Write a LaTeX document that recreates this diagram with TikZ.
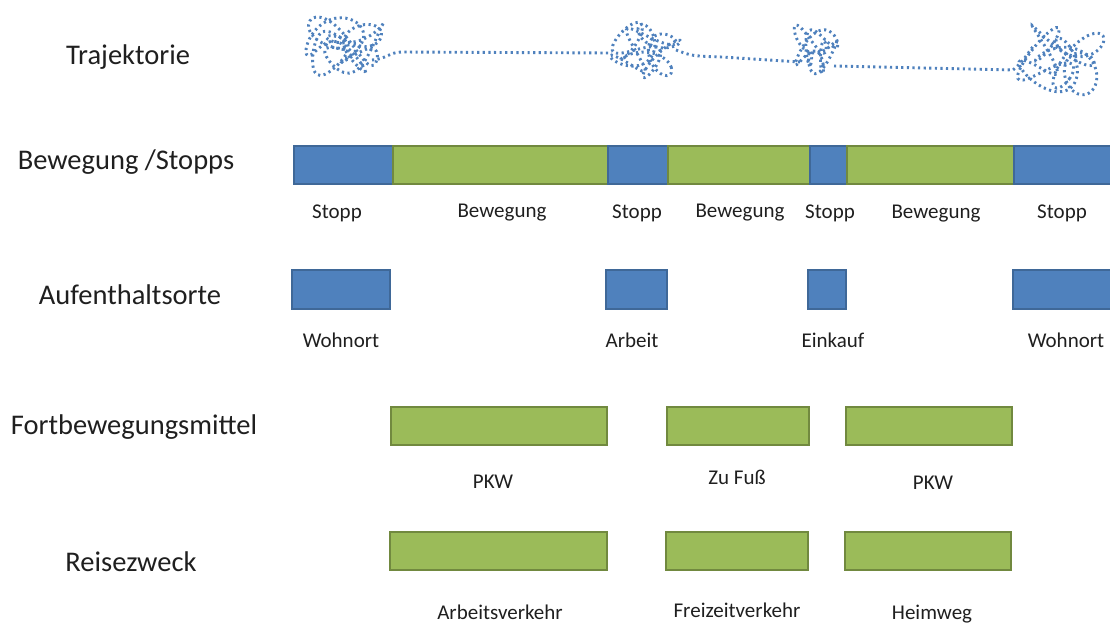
\documentclass[tikz,border=0pt]{standalone}
\usepackage{fontspec}
\setmainfont{Carlito}
\definecolor{stopblue}{HTML}{4F81BD}
\definecolor{stopedge}{HTML}{3F6898}
\definecolor{movegreen}{HTML}{9BBB59}
\definecolor{moveedge}{HTML}{71893F}
\begin{document}
\begin{tikzpicture}[x=1pt,y=-1pt,
  rowlabel/.style={font=\fontsize{28.5}{32}\selectfont, text=black!88},
  seglabel/.style={font=\fontsize{21}{24}\selectfont, text=black!88},
  stopbox/.style={draw=stopedge, fill=stopblue, line width=1.3pt},
  movebox/.style={draw=moveedge, fill=movegreen, line width=1.3pt},
  track/.style={draw=stopblue, line width=2.9pt, dash pattern=on 2.2pt off 3.4pt}]
\useasboundingbox (0,0) rectangle (1110,625);

% row titles
\node[rowlabel] (tTraj) at (128,57) {Trajektorie};
\node[rowlabel] (tMove) at (126,162) {Bewegung /Stopps};
\node[rowlabel] (tStay) at (130,295) {Aufenthaltsorte};
\node[rowlabel] (tMode) at (134,427) {Fortbewegungsmittel};
\node[rowlabel] (tPurp) at (131,562) {Reisezweck};

% trajectory: tangles at the stops, dotted tracks between them
\draw[track] plot[smooth, domain=0:360, samples=160, variable=\t]
  ({345+46*(0.5*sin(3*\t)+0.4*cos(7*\t+20)+0.1*sin(11*\t))}, {46+32*(0.5*cos(4*\t)+0.4*sin(9*\t)+0.1*cos(13*\t))});
\draw[track] plot[smooth, domain=0:360, samples=160, variable=\t]
  ({645+36*(0.55*sin(2*\t+30)+0.45*cos(7*\t))}, {50+28*(0.6*cos(3*\t)+0.4*sin(8*\t))});
\draw[track] plot[smooth, domain=0:360, samples=140, variable=\t]
  ({816+23*(0.6*sin(3*\t)+0.4*cos(5*\t+40))}, {50+25*(0.55*cos(2*\t)+0.45*sin(7*\t))});
\draw[track] plot[smooth, domain=0:360, samples=160, variable=\t]
  ({1060+44*(0.55*sin(2*\t)+0.45*cos(7*\t+60))}, {60+35*(0.55*cos(3*\t+20)+0.45*sin(8*\t))});
\draw[track] (372,60) .. controls (386,59) and (390,52) .. (402,52) -- (612,53);
\draw[track] (676,50) .. controls (692,56) .. (722,57) -- (800,62);
\draw[track] (834,66) -- (1013,70) .. controls (1022,62) .. (1034,45);

% movement / stops
\path[stopbox] (294,146) rectangle (393,184);
\path[movebox] (393,146) rectangle (608,184);
\path[stopbox] (608,146) rectangle (668,184);
\path[movebox] (668,146) rectangle (810,184);
\path[stopbox] (810,146) rectangle (847,184);
\path[movebox] (847,146) rectangle (1014,184);
\path[stopbox] (1014,146) rectangle (1118,184);
\node[seglabel] (m1) at (337,213) {Stopp};
\node[seglabel] (m2) at (502,213) {Bewegung};
\node[seglabel] (m3) at (637,213) {Stopp};
\node[seglabel] (m4) at (740,213) {Bewegung};
\node[seglabel] (m5) at (830,213) {Stopp};
\node[seglabel] (m6) at (936,214) {Bewegung};
\node[seglabel] (m7) at (1062,213) {Stopp};

% places of stay
\path[stopbox] (292,270) rectangle (390,309);
\path[stopbox] (606,270) rectangle (667,309);
\path[stopbox] (808,270) rectangle (846,309);
\path[stopbox] (1013,270) rectangle (1118,309);
\node[seglabel] (p1) at (341,340) {Wohnort};
\node[seglabel] (p2) at (632,340) {Arbeit};
\node[seglabel] (p3) at (833,340) {Einkauf};
\node[seglabel] (p4) at (1066,340) {Wohnort};

% means of transport
\path[movebox] (391,407) rectangle (607,445);
\path[movebox] (667,407) rectangle (809,445);
\path[movebox] (846,407) rectangle (1012,445);
\node[seglabel] (v1) at (493,482) {PKW};
\node[seglabel] (v2) at (737,477) {Zu Fuß};
\node[seglabel] (v3) at (933,483) {PKW};

% trip purpose
\path[movebox] (390,532) rectangle (607,570);
\path[movebox] (666,532) rectangle (808,570);
\path[movebox] (845,532) rectangle (1011,570);
\node[seglabel] (z1) at (500,612) {Arbeitsverkehr};
\node[seglabel] (z2) at (737,610) {Freizeitverkehr};
\node[seglabel] (z3) at (932,614) {Heimweg};
\end{tikzpicture}
\end{document}
